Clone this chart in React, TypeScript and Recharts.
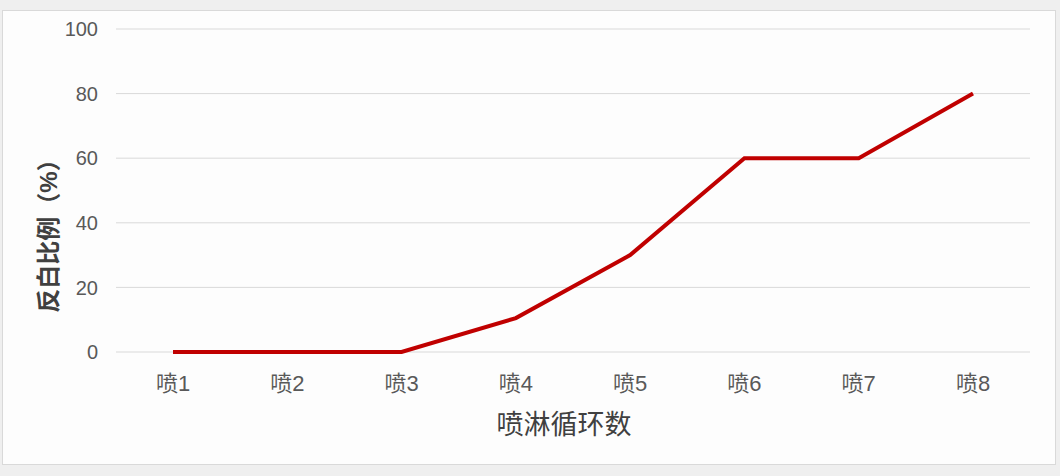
import { CartesianGrid, Label, Line, LineChart, XAxis, YAxis } from "recharts";

const categories = ["喷1", "喷2", "喷3", "喷4", "喷5", "喷6", "喷7", "喷8"];
const ratios = [0, 0, 0, 10.5, 30, 60, 60, 80];
const yTicks = [0, 20, 40, 60, 80, 100];

const data = categories.map((name, i) => ({ name, ratio: ratios[i] }));

const fontFamily = "'Liberation Sans', 'Noto Sans CJK SC', sans-serif";

const YTitle = () => (
    <text
        x={45}
        y={219}
        transform="rotate(-90, 45, 219)"
        textAnchor="middle"
        dominantBaseline="central"
        style={{ fontSize: 24, fontWeight: 700, fill: "#404040", fontFamily }}
    >
        反白比例（%）
    </text>
);

const App = () => {
    return (
        <div style={{ position: "absolute", left: 0, top: 0, width: 1060, height: 476, background: "#efefef" }}>
            <div
                style={{
                    position: "absolute",
                    left: 2,
                    top: 10,
                    width: 1052,
                    height: 453,
                    background: "#fdfdfd",
                    border: "1px solid #d9d9d9",
                }}
            >
                <LineChart width={1052} height={453} data={data} margin={{ top: 18, right: 25, left: 0, bottom: 0 }}>
                    <CartesianGrid stroke="#d9d9d9" vertical={false} />
                    <XAxis
                        dataKey="name"
                        height={112}
                        padding={{ left: 57, right: 57 }}
                        axisLine={false}
                        tickLine={false}
                        tickMargin={17}
                        tick={{ fontSize: 22, fill: "#595959", fontFamily }}
                    >
                        <Label
                            value="喷淋循环数"
                            position="insideBottom"
                            offset={30}
                            dx={-9}
                            style={{ fontSize: 27, fill: "#404040", fontFamily }}
                        />
                    </XAxis>
                    <YAxis
                        width={113}
                        domain={[0, 100]}
                        ticks={yTicks}
                        axisLine={false}
                        tickLine={false}
                        tickMargin={12}
                        tick={{ fontSize: 20, fill: "#595959", fontFamily }}
                    >
                        <Label content={<YTitle />} />
                    </YAxis>
                    <Line
                        type="linear"
                        dataKey="ratio"
                        stroke="#c00000"
                        strokeWidth={4}
                        dot={false}
                        isAnimationActive={false}
                    />
                </LineChart>
            </div>
        </div>
    );
};

export default App;
